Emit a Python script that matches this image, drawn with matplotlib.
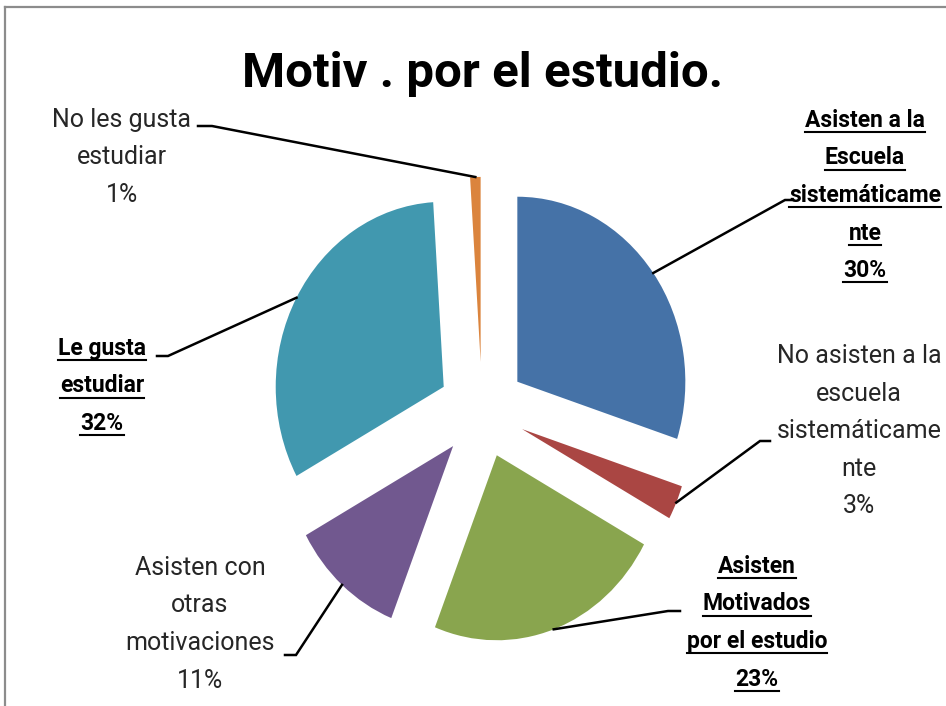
import matplotlib
matplotlib.use("Agg")
import numpy as np
import matplotlib.pyplot as plt
from matplotlib.lines import Line2D

# datos del grafico
categorias = [
    "Asisten a la\nEscuela\nsistemáticame\nnte",
    "No asisten a la\nescuela\nsistemáticame\nnte",
    "Asisten\nMotivados\npor el estudio",
    "Asisten con\notras\nmotivaciones",
    "Le gusta\nestudiar",
    "No les gusta\nestudiar",
]
valores = [30, 3, 23, 11, 32, 1]
colores = ["#4572A7", "#AA4643", "#89A54E", "#71588F", "#4198AF", "#DB843D"]
negrita = [True, False, True, False, True, False]
titulo = "Motiv . por el estudio."

# posiciones de las etiquetas (pixeles): centro x, primera linea base y, codo y fin de la linea guia
pos_x = [865, 859, 757, 200, 102, 122]
pos_y = [127, 363, 573, 575, 355, 127]
codo = [(785, 200), (760, 441), (668, 611), (296, 655), (168, 356), (212, 126)]
fin_guia = [(793, 200), (770, 441), (680, 611), (285, 655), (157, 356), (198, 126)]
paso = 37.5

W, H = 946, 706
cx, cy = 482, 410      # centro del pastel en pixeles
rx, ry = 168, 185      # radio horizontal / vertical en pixeles

plt.rcParams['font.family'] = ['Roboto', 'DejaVu Sans']

fig = plt.figure(figsize=(W / 100, H / 100), dpi=100)
ax = fig.add_axes([0, 0, 1, 1])
cunas, _ = ax.pie(valores, colors=colores, startangle=90, counterclock=False,
                  explode=[0.26] * len(valores), radius=1,
                  wedgeprops=dict(linewidth=0))
ax.set_aspect('auto')
ax.set_xlim(-cx / rx, (W - cx) / rx)
ax.set_ylim((cy - H) / ry, cy / ry)
ax.axis('off')


def a_datos(p):
    return (p[0] - cx) / rx, (cy - p[1]) / ry


# lineas guia desde el centro del arco de cada cuna
for i, w in enumerate(cunas):
    ang = np.deg2rad((w.theta1 + w.theta2) / 2)
    x0 = w.center[0] + np.cos(ang) * w.r
    y0 = w.center[1] + np.sin(ang) * w.r
    x1, y1 = a_datos(codo[i])
    x2, y2 = a_datos(fin_guia[i])
    ax.plot([x0, x1, x2], [y0, y1, y2], color="black", lw=1.8,
            solid_joinstyle='miter', clip_on=False)

# etiquetas, linea por linea
textos_sub = []
for i in range(len(valores)):
    lineas = categorias[i].split("\n") + [f"{valores[i]}%"]
    for k, ln in enumerate(lineas):
        t = fig.text(pos_x[i] / W, 1 - (pos_y[i] + k * paso) / H, ln,
                     ha='center', va='baseline',
                     fontsize=16.5 if negrita[i] else 18,
                     fontweight='bold' if negrita[i] else 'normal',
                     color='black' if negrita[i] else '#262626')
        if negrita[i]:
            textos_sub.append(t)

fig.text(483 / W, 1 - 87 / H, titulo, ha='center', va='baseline',
         fontsize=35.5, fontweight='bold')

# marco del area del grafico
fig.add_artist(Line2D([5 / W, 5 / W], [0, 1 - 7 / H], color="#8c8c8c", lw=1.6,
                      transform=fig.transFigure))
fig.add_artist(Line2D([5 / W, 1], [1 - 7 / H, 1 - 7 / H], color="#8c8c8c", lw=1.6,
                      transform=fig.transFigure))

# subrayado de las etiquetas en negrita
fig.canvas.draw()
rend = fig.canvas.get_renderer()
for t in textos_sub:
    bb = t.get_window_extent(rend)
    yb = t.get_position()[1] * H - 5
    fig.add_artist(Line2D([bb.x0 / W, bb.x1 / W], [yb / H, yb / H],
                          color="black", lw=1.5, transform=fig.transFigure))

fig.savefig("out.png", dpi=100)
